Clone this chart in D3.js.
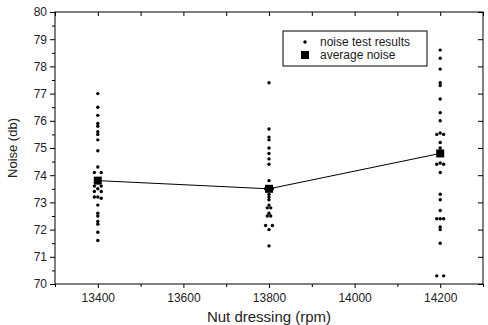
<!DOCTYPE html>
<html>
<head>
<meta charset="utf-8">
<script src="https://cdn.jsdelivr.net/npm/d3@7"></script>
<style>
  body { margin: 0; background: #fff; }
  svg { display: block; font-family: "Liberation Sans", Arial, sans-serif; }
</style>
</head>
<body>
<div id="chart"></div>
<script>
// noise test results, [rpm, noise db] (pairs side by side are read a few rpm apart)
var results13400 = [
  [13400, 77.0], [13400, 76.5], [13400, 76.2], [13400, 75.9], [13400, 75.8],
  [13400, 75.6], [13400, 75.5], [13400, 75.3], [13400, 74.9], [13400, 74.3],
  [13392, 74.1], [13408, 74.1], [13392, 73.6], [13408, 73.6], [13400, 73.5],
  [13392, 73.4], [13408, 73.4], [13392, 73.2], [13400, 73.2], [13408, 73.15],
  [13400, 72.9], [13400, 72.6], [13400, 72.5], [13400, 72.3], [13400, 72.2],
  [13400, 71.9], [13400, 71.6]
];
var results13800 = [
  [13800, 77.4], [13800, 75.7], [13800, 75.4], [13800, 75.3], [13800, 75.0],
  [13800, 74.8], [13800, 74.6], [13800, 74.4], [13800, 73.8], [13792, 73.5],
  [13808, 73.5], [13800, 73.3], [13800, 73.2], [13800, 73.1], [13800, 72.9],
  [13796, 72.8], [13804, 72.8], [13800, 72.6], [13796, 72.5], [13804, 72.5],
  [13792, 72.15], [13808, 72.15], [13800, 72.0], [13800, 71.4]
];
var results14200 = [
  [14200, 78.6], [14200, 78.3], [14200, 77.9], [14200, 77.4], [14200, 77.3],
  [14200, 76.8], [14200, 76.3], [14200, 76.0], [14192, 75.5], [14200, 75.55],
  [14208, 75.5], [14200, 75.2], [14200, 75.0], [14192, 74.4], [14200, 74.45],
  [14208, 74.4], [14200, 74.1], [14200, 73.3], [14200, 73.1], [14200, 72.7],
  [14192, 72.4], [14200, 72.4], [14208, 72.4], [14200, 72.1], [14200, 72.0],
  [14200, 71.5], [14192, 70.3], [14208, 70.3]
];

var speeds = [13400, 13800, 14200];
var averageNoise = [73.8, 73.5, 74.8];

var xTicks = [13400, 13600, 13800, 14000, 14200];
var xMinor = [13300, 13500, 13700, 13900, 14100, 14300];
var yTicks = [70, 71, 72, 73, 74, 75, 76, 77, 78, 79, 80];

var legendLabels = ["noise test results", "average noise"];

var width = 488, height = 325;
var margin = {top: 12, right: 5, bottom: 41, left: 55};
var x0 = margin.left, x1 = width - margin.right;
var y0 = margin.top, y1 = height - margin.bottom;

var svg = d3.select("#chart").append("svg")
  .attr("width", width)
  .attr("height", height);

var x = d3.scaleLinear().domain([13300, 14300]).range([x0, x1]);
var y = d3.scaleLinear().domain([70, 80]).range([y1, y0]);

function tidy(g) {
  g.select(".domain").remove();
  g.selectAll("line").attr("stroke", "#000");
  g.selectAll("text").attr("fill", "#222").style("font-size", "12px");
}

// bottom axis
svg.append("g")
  .attr("transform", "translate(0," + y1 + ")")
  .call(d3.axisBottom(x).tickValues(xTicks).tickSize(4).tickPadding(5).tickFormat(d3.format("d")))
  .call(tidy);
svg.append("g")
  .attr("transform", "translate(0," + y1 + ")")
  .call(d3.axisBottom(x).tickValues(xMinor).tickSize(3).tickFormat(""))
  .call(tidy);

// top mirror ticks, inward
svg.append("g")
  .attr("transform", "translate(0," + y0 + ")")
  .call(d3.axisTop(x).tickValues(xTicks.concat(xMinor)).tickSize(-4).tickFormat(""))
  .call(tidy);

// left axis
svg.append("g")
  .attr("transform", "translate(" + x0 + ",0)")
  .call(d3.axisLeft(y).tickValues(yTicks).tickSize(5).tickPadding(3).tickFormat(d3.format("d")))
  .call(tidy);
svg.append("g")
  .attr("transform", "translate(" + x0 + ",0)")
  .call(d3.axisLeft(y).tickValues(yTicks.slice(0, -1).map(function(d) { return d + 0.5; })).tickSize(3).tickFormat(""))
  .call(tidy);

// right mirror ticks, inward
svg.append("g")
  .attr("transform", "translate(" + x1 + ",0)")
  .call(d3.axisRight(y).tickValues(yTicks).tickSize(-5).tickFormat(""))
  .call(tidy);

// frame
svg.append("rect")
  .attr("x", x0).attr("y", y0)
  .attr("width", x1 - x0).attr("height", y1 - y0)
  .attr("fill", "none").attr("stroke", "#000").attr("stroke-width", 1);

// axis titles
svg.append("text")
  .attr("x", (x0 + x1) / 2).attr("y", 322)
  .attr("text-anchor", "middle")
  .style("font-size", "15px").attr("fill", "#222")
  .text("Nut dressing (rpm)");

svg.append("text")
  .attr("transform", "translate(17," + ((y0 + y1) / 2) + ")rotate(-90)")
  .attr("text-anchor", "middle")
  .style("font-size", "13px").attr("fill", "#222")
  .text("Noise (db)");

// average line
var avgData = speeds.map(function(s, i) { return {rpm: s, noise: averageNoise[i]}; });
svg.append("path")
  .datum(avgData)
  .attr("fill", "none")
  .attr("stroke", "#000")
  .attr("stroke-width", 1)
  .attr("d", d3.line().x(function(d) { return x(d.rpm); }).y(function(d) { return y(d.noise); }));

// test result points
var allResults = results13400.concat(results13800, results14200);
svg.selectAll(".pt")
  .data(allResults)
  .enter()
  .append("circle")
    .attr("class", "pt")
    .attr("cx", function(d) { return x(d[0]); })
    .attr("cy", function(d) { return y(d[1]); })
    .attr("r", 1.7)
    .attr("fill", "#000");

// average squares
svg.selectAll(".avg")
  .data(avgData)
  .enter()
  .append("rect")
    .attr("class", "avg")
    .attr("x", function(d) { return x(d.rpm) - 4; })
    .attr("y", function(d) { return y(d.noise) - 4; })
    .attr("width", 8)
    .attr("height", 8)
    .attr("fill", "#000");

// legend
var legend = svg.append("g").attr("transform", "translate(283,31)");
legend.append("rect")
  .attr("width", 144).attr("height", 35)
  .attr("fill", "#fff").attr("stroke", "#000").attr("stroke-width", 1);
legend.append("circle").attr("cx", 22).attr("cy", 11).attr("r", 1.7).attr("fill", "#000");
legend.append("rect").attr("x", 18).attr("y", 20).attr("width", 8).attr("height", 8).attr("fill", "#000");
legend.selectAll(".lt")
  .data(legendLabels)
  .enter()
  .append("text")
    .attr("class", "lt")
    .attr("x", 37)
    .attr("y", function(d, i) { return 15 + i * 13; })
    .style("font-size", "12px")
    .attr("fill", "#222")
    .text(function(d) { return d; });
</script>
</body>
</html>
